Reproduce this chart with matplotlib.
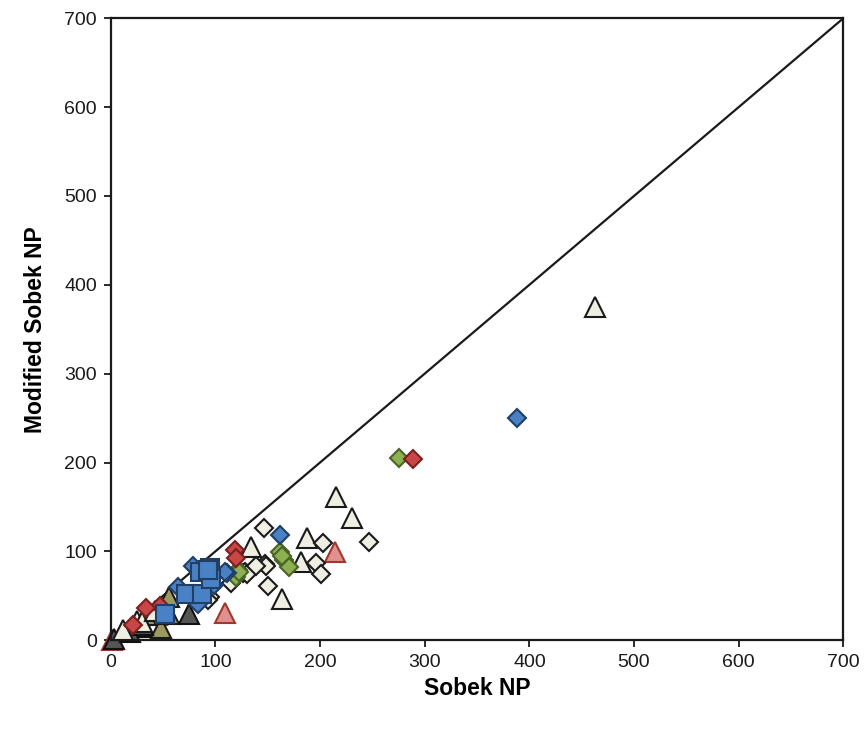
import matplotlib.pyplot as plt
import matplotlib

matplotlib.rcParams['font.family'] = ['Liberation Sans', 'DejaVu Sans']
matplotlib.rcParams['font.size'] = 14

# data (Sobek NP vs Modified Sobek NP)
beige_dia_x = [146, 203, 247, 196, 201, 147, 150, 126, 148, 128, 115, 95, 130, 93, 139]
beige_dia_y = [126, 109, 110, 87, 74, 86, 61, 76, 84, 77, 64, 49, 75, 45, 84]

beige_tri_x = [463, 215, 231, 188, 182, 164, 134, 25, 12, 30, 42]
beige_tri_y = [375, 161, 138, 115, 88, 46, 105, 22, 11, 20, 33]

blue_dia_x = [388, 162, 64, 111, 79, 99, 83, 109]
blue_dia_y = [250, 118, 60, 76, 83, 62, 41, 77]

blue_sq_x = [95, 85, 72, 87, 52, 96, 93]
blue_sq_y = [81, 77, 52, 52, 30, 69, 79]

red_dia_x = [289, 119, 120, 47, 34, 21]
red_dia_y = [204, 101, 93, 39, 36, 17]

pink_tri_x = [214, 109, 40, 44, 20, 1]
pink_tri_y = [99, 31, 30, 28, 15, 0]

green_dia_x = [275, 162, 166, 170, 164, 122, 120, 123]
green_dia_y = [205, 99, 90, 82, 95, 79, 71, 77]

olive_tri_x = [48, 34, 56, 56]
olive_tri_y = [14, 28, 30, 49]

gray_tri_x = [75, 3, 29, 18, 31]
gray_tri_y = [29, 1, 15, 9, 17]


fig = plt.figure(figsize=(8.65, 7.3), dpi=100)
ax = fig.add_axes([0.128, 0.123, 0.847, 0.852])

ax.plot([0, 700], [0, 700], color='#1a1a1a', lw=1.6, zorder=1)

ew = 1.5
kw = dict(mew=ew, clip_on=False, ls='none')
ax.plot(pink_tri_x, pink_tri_y, '^', ms=14, mfc='#E09090', mec='#A0392B', zorder=2, **kw)
ax.plot(olive_tri_x, olive_tri_y, '^', ms=14, mfc='#9C9A5E', mec='#1a1a1a', zorder=2, **kw)
ax.plot(gray_tri_x, gray_tri_y, '^', ms=14, mfc='#555555', mec='#111111', zorder=2, **kw)
ax.plot(beige_tri_x, beige_tri_y, '^', ms=14, mfc='#EFEEE2', mec='#1a1a1a', zorder=3, **kw)
ax.plot(beige_dia_x, beige_dia_y, 'D', ms=9.5, mfc='#EFEEE2', mec='#1a1a1a', zorder=3, **kw)
ax.plot(green_dia_x, green_dia_y, 'D', ms=9.5, mfc='#8DB050', mec='#4A6326', zorder=4, **kw)
ax.plot(red_dia_x, red_dia_y, 'D', ms=9.5, mfc='#C94646', mec='#7A1F1F', zorder=4, **kw)
ax.plot(blue_dia_x, blue_dia_y, 'D', ms=9.5, mfc='#4A80C4', mec='#1F3F66', zorder=5, **kw)
ax.plot(blue_sq_x, blue_sq_y, 's', ms=13.5, mfc='#4A80C4', mec='#1F3F66', zorder=6, **kw)

ax.set_xlim(0, 700)
ax.set_ylim(0, 700)
ax.set_xticks(range(0, 701, 100))
ax.set_yticks(range(0, 701, 100))
ax.tick_params(direction='out', length=5, width=1.3, colors='#1a1a1a', labelsize=14, pad=5)
for s in ax.spines.values():
    s.set_linewidth(1.6)
    s.set_color('#1a1a1a')

ax.set_xlabel('Sobek NP', fontsize=16.5, fontweight='bold', labelpad=4)
ax.set_ylabel('Modified Sobek NP', fontsize=16.5, fontweight='bold', labelpad=12)

plt.savefig('out.png', dpi=100)
